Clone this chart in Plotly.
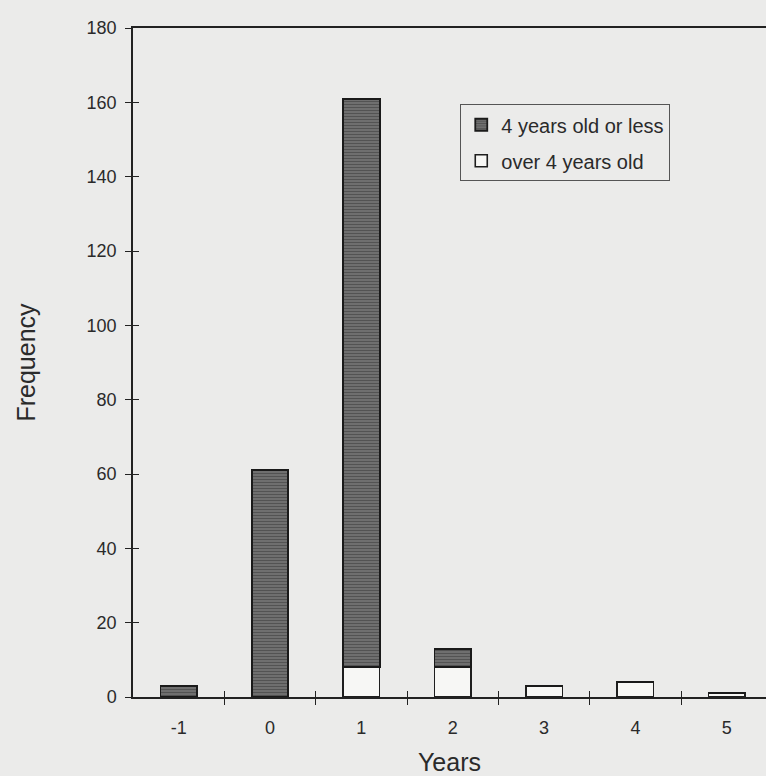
import plotly.graph_objects as go

categories = [-1, 0, 1, 2, 3, 4, 5]
tick_labels = ["-1", "0", "1", "2", "3", "4", "5"]
over_4 = [0, 0, 8, 8, 3, 4, 1]
four_or_less = [3, 61, 153, 5, 0, 0, 0]
boundaries = [-0.5, 0.5, 1.5, 2.5, 3.5, 4.5]

BG = "#ebebea"
FONT = "Arial, Liberation Sans, sans-serif"
TXT = "#2a2a2a"

fig = go.Figure()
fig.add_trace(go.Bar(
    x=categories, y=over_4, name="over 4 years old", width=0.4,
    legendgroup="b", legendrank=2,
    marker=dict(color="#f7f7f5", line=dict(color="#1e1e1e", width=1.6)),
))
fig.add_trace(go.Bar(
    x=categories, y=four_or_less, name="4 years old or less", width=0.4,
    legendgroup="a", legendrank=1,
    marker=dict(color="#5e5e5e", line=dict(color="#1a1a1a", width=1.8),
                pattern=dict(shape="-", fgcolor="#2e2e2e", bgcolor="#787878",
                             size=3, solidity=0.5)),
))
# helper trace for overlay axes (inside ticks)
fig.add_trace(go.Scatter(x=[None], y=[None], xaxis="x2", yaxis="y2",
                         showlegend=False, hoverinfo="skip"))

fig.update_layout(
    width=766, height=776,
    margin=dict(l=133, r=0, t=28, b=79),
    paper_bgcolor=BG, plot_bgcolor=BG,
    barmode="stack",
    font=dict(family=FONT, color=TXT, size=18),
    showlegend=True,
    legend=dict(x=0.517, y=0.886, xanchor="left", yanchor="top",
                bgcolor=BG, bordercolor="#555", borderwidth=1,
                traceorder="grouped", tracegroupgap=7,
                font=dict(size=20, family=FONT, color=TXT),
                itemwidth=30),
    xaxis=dict(
        range=[-1.5, 5.43], tickmode="array", tickvals=categories, ticktext=tick_labels,
        ticks="", showgrid=False, zeroline=False,
        showline=True, linecolor="#222", linewidth=1.5, mirror=True,
        tickfont=dict(size=18), ticklabelstandoff=14,
        minor=dict(tickmode="array", tickvals=boundaries, ticks="outside",
                   ticklen=6, tickcolor="#222", tickwidth=1, showgrid=False),
        title=dict(text="Years", font=dict(size=25), standoff=16),
    ),
    xaxis2=dict(
        range=[-1.5, 5.43], overlaying="x", anchor="y", side="bottom",
        tickmode="array", tickvals=boundaries, ticks="inside", ticklen=6,
        tickcolor="#222", tickwidth=1, showticklabels=False, showgrid=False,
        zeroline=False, showline=False,
    ),
    yaxis=dict(
        range=[0, 180], tickmode="linear", tick0=0, dtick=20,
        ticks="outside", ticklen=6, tickcolor="#222", tickwidth=1,
        showgrid=False, zeroline=False,
        showline=True, linecolor="#222", linewidth=1.5,
        tickfont=dict(size=18), ticklabelstandoff=5,
        title=dict(text="Frequency", font=dict(size=25), standoff=44),
    ),
    yaxis2=dict(
        range=[0, 180], overlaying="y", anchor="x", side="left",
        tickmode="linear", tick0=0, dtick=20,
        ticks="inside", ticklen=6, tickcolor="#222", tickwidth=1,
        showticklabels=False, showgrid=False, zeroline=False, showline=False,
    ),
)

fig.write_html(
    "out.html",
    config={"displayModeBar": False},
    post_script="document.body.style.margin='0';document.body.style.background='#ebebea';",
)
